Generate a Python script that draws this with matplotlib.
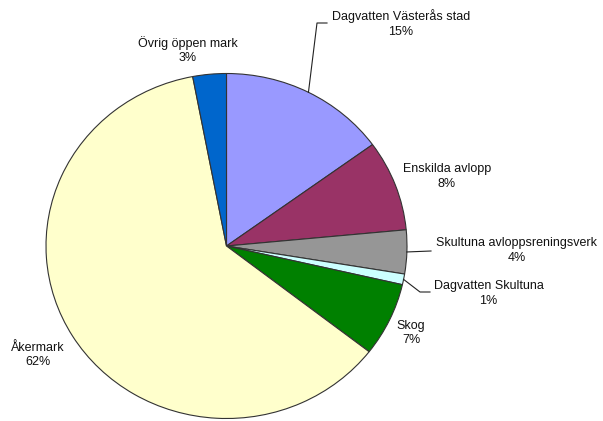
import matplotlib.pyplot as plt
import numpy as np
from matplotlib.lines import Line2D

plt.rcParams['font.family'] = ['Liberation Sans', 'DejaVu Sans']

# clockwise from the top
names = ['Dagvatten Västerås stad', 'Enskilda avlopp', 'Skultuna avloppsreningsverk',
         'Dagvatten Skultuna', 'Skog', 'Åkermark', 'Övrig öppen mark']
shares = [15.0, 8.5, 4.1, 1.0, 6.9, 61.5, 3.0]
pct_labels = ['15%', '8%', '4%', '1%', '7%', '62%', '3%']
colors = ['#9999FF', '#993366', '#969696', '#CCFFFF', '#008000', '#FFFFCC', '#0066CC']

W, H = 603, 421
fig = plt.figure(figsize=(W / 100, H / 100), dpi=100)
# pie is a bit squashed vertically in the original
ax = fig.add_axes([46 / W, 1 - 418.5 / H, 361 / W, 345 / H])

wedges, _ = ax.pie(shares, colors=colors, startangle=90, counterclock=False,
                   wedgeprops=dict(edgecolor='#333333', linewidth=0.8))
ax.set_aspect('auto')
ax.set_xlim(-1, 1)
ax.set_ylim(-1, 1)
ax.axis('off')


def px(x, y):
    return (x / W, 1 - y / H)


def edge_point(w):
    a = np.deg2rad((w.theta1 + w.theta2) / 2)
    p = ax.transData.transform((np.cos(a), np.sin(a)))
    return fig.transFigure.inverted().transform(p)


# text block centres (pixels)
label_pos = [(401, 23.5), (447, 176.5), (517, 250.5), (488.5, 293.5),
             (411, 333), (38, 355), (188, 50)]

for name, pct, (x, y) in zip(names, pct_labels, label_pos):
    fx, fy = px(x, y)
    fig.text(fx, fy, name + '\n' + pct, ha='center', va='center',
             multialignment='center', fontsize=9, linespacing=1.3, color='#111111')

# leader lines: wedge edge -> elbow -> text
leaders = {0: [(317, 23), (327, 23)],
           2: [(431, 251)],
           3: [(420, 292), (430, 292)]}
for i, pts in leaders.items():
    start = edge_point(wedges[i])
    xs = [start[0]] + [px(*p)[0] for p in pts]
    ys = [start[1]] + [px(*p)[1] for p in pts]
    fig.add_artist(Line2D(xs, ys, transform=fig.transFigure, color='#222222', linewidth=0.8))

fig.savefig('out.png', dpi=100)
